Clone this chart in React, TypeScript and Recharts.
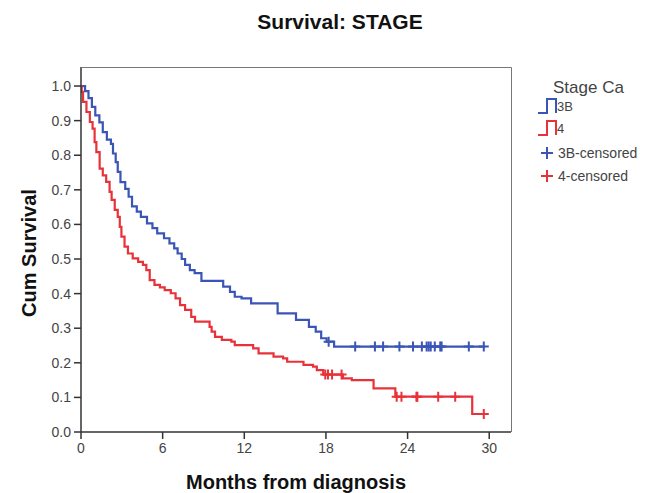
import React from "react";
import { ComposedChart, Line, Scatter, XAxis, YAxis } from "recharts";

// Kaplan-Meier step points (time in months, cumulative survival after the step)
const stage3BTimes = [0, 0.3, 0.55, 0.8, 1.05, 1.35, 1.6, 1.9, 2.2, 2.35, 2.55, 2.7, 2.9, 3.25, 3.5, 3.75, 4.1, 4.4, 4.85, 5.25, 5.6, 6.1, 6.5, 6.85, 7.1, 7.4, 7.65, 8.0, 8.35, 8.85, 10.45, 10.95, 11.3, 11.8, 12.5, 14.45, 15.8, 16.75, 17.25, 17.65, 18.05, 18.6, 29.7];
const stage3BSurv = [1.0, 0.985, 0.965, 0.94, 0.915, 0.895, 0.867, 0.845, 0.833, 0.805, 0.78, 0.752, 0.722, 0.703, 0.68, 0.652, 0.637, 0.622, 0.603, 0.589, 0.574, 0.56, 0.545, 0.531, 0.516, 0.5, 0.483, 0.468, 0.459, 0.437, 0.42, 0.405, 0.391, 0.386, 0.372, 0.343, 0.324, 0.304, 0.29, 0.271, 0.261, 0.247, 0.247];

const stage4Times = [0, 0.05, 0.15, 0.4, 0.65, 0.85, 1.0, 1.13, 1.37, 1.6, 1.85, 2.1, 2.25, 2.48, 2.7, 2.85, 2.97, 3.2, 3.45, 3.8, 4.2, 4.55, 4.8, 5.05, 5.4, 5.8, 6.15, 6.6, 6.95, 7.28, 7.65, 8.1, 8.38, 9.45, 9.6, 9.85, 10.35, 11.05, 11.3, 12.65, 13.05, 14.15, 14.85, 15.15, 16.35, 17.05, 17.33, 17.8, 19.25, 19.9, 21.5, 23.1, 28.75, 29.6];
const stage4Surv = [1.0, 0.983, 0.954, 0.925, 0.896, 0.877, 0.838, 0.809, 0.761, 0.742, 0.723, 0.694, 0.671, 0.642, 0.622, 0.593, 0.565, 0.536, 0.516, 0.502, 0.492, 0.483, 0.468, 0.439, 0.425, 0.418, 0.41, 0.401, 0.386, 0.367, 0.353, 0.333, 0.319, 0.304, 0.29, 0.275, 0.266, 0.261, 0.251, 0.242, 0.227, 0.218, 0.213, 0.203, 0.194, 0.189, 0.179, 0.166, 0.155, 0.15, 0.126, 0.102, 0.052, 0.052];

// Censored observations
const cens3BTimes = [18.2, 20.15, 21.6, 22.2, 23.4, 24.4, 25.05, 25.4, 25.55, 25.7, 26.0, 26.4, 26.5, 28.5, 29.6];
const cens3BSurv = [0.261, 0.247, 0.247, 0.247, 0.247, 0.247, 0.247, 0.247, 0.247, 0.247, 0.247, 0.247, 0.247, 0.247, 0.247];
const cens4Times = [17.95, 18.15, 18.45, 19.15, 23.2, 23.55, 24.65, 24.72, 26.25, 27.5, 29.6];
const cens4Surv = [0.166, 0.166, 0.166, 0.166, 0.102, 0.102, 0.102, 0.102, 0.102, 0.102, 0.052];

const xTicks = [0, 6, 12, 18, 24, 30];
const yTicks = [0, 0.1, 0.2, 0.3, 0.4, 0.5, 0.6, 0.7, 0.8, 0.9, 1.0];

const BLUE = "#3a55b5";
const RED = "#e8323a";

const toRows = (ts: number[], ss: number[]) => ts.map((t, i) => ({ t, s: ss[i] }));
const data3B = toRows(stage3BTimes, stage3BSurv);
const data4 = toRows(stage4Times, stage4Surv);
const c3B = toRows(cens3BTimes, cens3BSurv);
const c4 = toRows(cens4Times, cens4Surv);

const plus = (color: string) => (p: any) => {
  const { cx, cy } = p;
  if (cx == null || cy == null) return <g />;
  return (
    <path
      d={`M${cx - 5},${cy}H${cx + 5}M${cx},${cy - 5}V${cy + 5}`}
      stroke={color}
      strokeWidth={2}
      fill="none"
    />
  );
};

const FONT = "'Liberation Sans', Arial, sans-serif";

export default function App() {
  return (
    <div style={{ position: "absolute", left: 0, top: 0, width: 653, height: 493, background: "#fff", overflow: "hidden" }}>
      <ComposedChart
        width={653}
        height={493}
        margin={{ top: 67, right: 142, bottom: 31, left: 0 }}
        style={{ fontFamily: FONT }}
      >
        <XAxis
          type="number"
          dataKey="t"
          domain={[0, 31.6]}
          ticks={xTicks}
          allowDataOverflow
          height={30}
          tickSize={7}
          tickMargin={4}
          axisLine={{ stroke: "#333", strokeWidth: 1.5 }}
          tickLine={{ stroke: "#333", strokeWidth: 1.5 }}
          tick={{ fill: "#444", fontSize: 14, fontFamily: FONT }}
        />
        <YAxis
          type="number"
          dataKey="s"
          domain={[0, 1.055]}
          ticks={yTicks}
          allowDataOverflow
          width={81}
          tickSize={7}
          tickMargin={3}
          tickFormatter={(v: number) => v.toFixed(1)}
          axisLine={{ stroke: "#333", strokeWidth: 1.5 }}
          tickLine={{ stroke: "#333", strokeWidth: 1.5 }}
          tick={{ fill: "#444", fontSize: 14, fontFamily: FONT }}
        />
        <Line data={data3B} dataKey="s" type="stepAfter" stroke={BLUE} strokeWidth={2.2} dot={false} isAnimationActive={false} />
        <Line data={data4} dataKey="s" type="stepAfter" stroke={RED} strokeWidth={2.2} dot={false} isAnimationActive={false} />
        <Scatter data={c3B} dataKey="s" shape={plus(BLUE)} isAnimationActive={false} />
        <Scatter data={c4} dataKey="s" shape={plus(RED)} isAnimationActive={false} />
      </ComposedChart>
      <svg
        width={653}
        height={493}
        style={{ position: "absolute", left: 0, top: 0, pointerEvents: "none", fontFamily: FONT }}
      >
        <path d="M81,67.5H511.5V432" stroke="#777" strokeWidth={1} fill="none" />
        <text x={340} y={29} textAnchor="middle" fontSize={21} fontWeight="bold" fill="#111">
          Survival: STAGE
        </text>
        <text
          x={0}
          y={0}
          transform="translate(36,253) rotate(-90)"
          textAnchor="middle"
          fontSize={20}
          fontWeight="bold"
          fill="#111"
        >
          Cum Survival
        </text>
        <text x={296} y={489} textAnchor="middle" fontSize={20} fontWeight="bold" fill="#111">
          Months from diagnosis
        </text>
        <text x={553} y={93} fontSize={17} fill="#444">Stage Ca</text>
        <path d="M538,113H547V99H556V113" stroke={BLUE} strokeWidth={2} fill="none" />
        <text x={557} y={111} fontSize={13} fill="#444">3B</text>
        <path d="M538,135H547V121H556V135" stroke={RED} strokeWidth={2} fill="none" />
        <text x={557} y={133} fontSize={13} fill="#444">4</text>
        <path d="M541,153H553M547,147V159" stroke={BLUE} strokeWidth={2} fill="none" />
        <text x={558} y={158} fontSize={14} fill="#444">3B-censored</text>
        <path d="M541,176H553M547,170V182" stroke={RED} strokeWidth={2} fill="none" />
        <text x={558} y={181} fontSize={14} fill="#444">4-censored</text>
      </svg>
    </div>
  );
}
